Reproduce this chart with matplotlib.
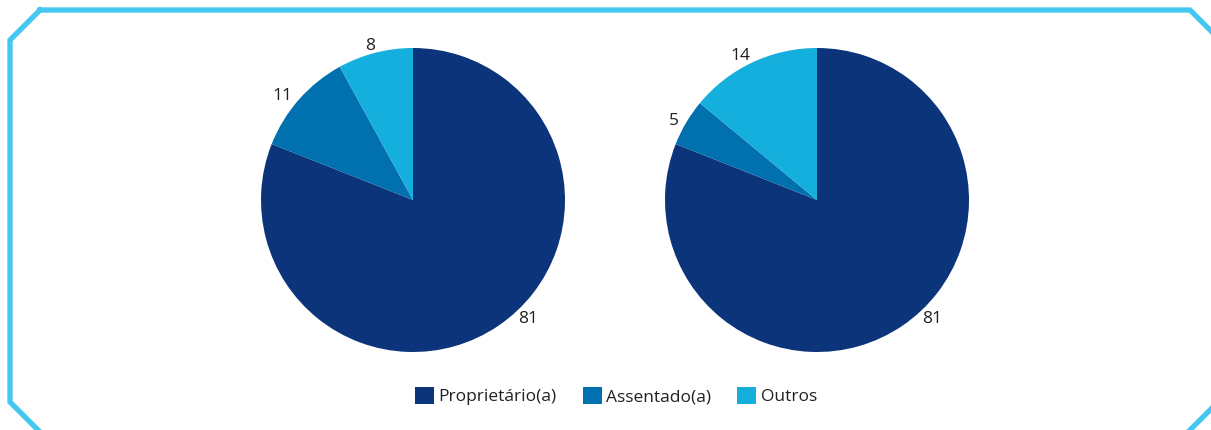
import numpy as np
import matplotlib
matplotlib.use('Agg')
import matplotlib.pyplot as plt
from matplotlib.patches import Patch
from matplotlib.lines import Line2D

# Data
labels = ['Proprietário(a)', 'Assentado(a)', 'Outros']
left_values = [81, 11, 8]
right_values = [81, 5, 14]
colors = ['#0b347b', '#0071ae', '#15afdd']
text_color = '#231f20'

plt.rcParams['font.family'] = ['Open Sans', 'DejaVu Sans']

W, H = 1211, 430
fig = plt.figure(figsize=(W / 100, H / 100), dpi=100)

# frame with cut corners (pixel coords, partly outside the picture)
px = [40, 1190, 1220, 1220, 1180, 48, 10, 10, 40]
py = [10, 10, 40, 400, 440, 440, 402, 40, 10]
fig.add_artist(Line2D([x / W for x in px], [1 - y / H for y in py],
                      transform=fig.transFigure, color='#45c8f0', lw=3.8,
                      solid_joinstyle='miter'))

r = 152
for cx, vals in [(413, left_values), (817, right_values)]:
    ax = fig.add_axes([(cx - r) / W, 1 - (200 + r) / H, 2 * r / W, 2 * r / H])
    wedges, texts = ax.pie(vals, colors=colors, startangle=90, counterclock=False, radius=1,
                           labels=[str(v) for v in vals], labeldistance=1.08,
                           textprops={'fontsize': 12.5, 'color': text_color})
    # big slice label sits a bit higher on its edge in the original
    a = np.deg2rad(-46)
    texts[0].set_position((1.09 * np.cos(a), 1.09 * np.sin(a)))
    texts[0].set_ha('center')
    for t in texts[1:]:
        x, y = t.get_position()
        t.set_position((x + 0.02, y - 0.03))
    ax.set_xlim(-1, 1)
    ax.set_ylim(-1, 1)

handles = [Patch(facecolor=c, edgecolor='none') for c in colors]
fig.legend(handles, labels, loc='center', bbox_to_anchor=(616 / W, 1 - 396 / H),
           ncol=3, frameon=False, fontsize=12.5, handlelength=1.1, handleheight=1.1,
           handletextpad=0.25, columnspacing=1.5, labelcolor=text_color)

fig.savefig('out.png', dpi=100)
